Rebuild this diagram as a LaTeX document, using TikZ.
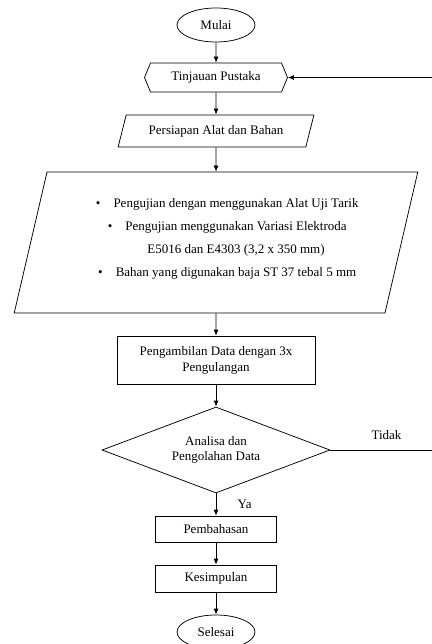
\documentclass[tikz,border=0pt]{standalone}
\usepackage{fontspec}
\setmainfont{Liberation Serif}
\usetikzlibrary{shapes, arrows.meta, positioning}
\tikzstyle{terminal} = [draw, ellipse, minimum width=78pt, minimum height=34pt, inner sep=0pt]
\tikzstyle{prep} = [draw, signal, signal to=west and east, signal pointer angle=135, minimum width=143pt, minimum height=29pt]
\tikzstyle{io} = [draw, trapezium, trapezium stretches=true, trapezium left angle=71, trapezium right angle=109, align=center]
\tikzstyle{process} = [draw, rectangle, align=center]
\tikzstyle{decision} = [draw, diamond, aspect=2.65, inner sep=0pt, align=center, minimum width=228pt, minimum height=86pt]
\tikzstyle{support} = [coordinate]
\newcommand{\geser}{\hspace*{40pt}}
\newcommand{\butir}{\geser\llap{\textbullet\hspace{13pt}}}

\begin{document}
\begin{tikzpicture}[x=1pt, y=-1pt, node distance=50pt, >={Latex[length=6pt,width=5pt]}, line width=0.75pt, font=\fontsize{13}{15}\selectfont]
\useasboundingbox (0,0) rectangle (431,644);
\node [terminal] (mulai) at (216,25) {Mulai};
\node [prep, below of=mulai, node distance=52.5pt] (tinjauan) {Tinjauan Pustaka};
\node [io, below of=tinjauan, node distance=53.5pt, minimum width=196pt, minimum height=32pt] (persiapan) {Persiapan Alat dan Bahan};
\node [io, below of=persiapan, node distance=111.5pt, minimum width=404pt, minimum height=141pt, trapezium left angle=73.5, trapezium right angle=106.5, font=\fontsize{13}{23.3}\selectfont] (uji) {\butir Pengujian dengan menggunakan Alat Uji Tarik\\
\butir Pengujian menggunakan Variasi Elektroda\\
\geser E5016 dan E4303 (3,2 x 350 mm)\\
\butir Bahan yang digunakan baja ST 37 tebal 5 mm\rule[-10pt]{0pt}{0pt}};
\node [process, below of=uji, node distance=117.5pt, minimum width=198pt, minimum height=48pt, font=\fontsize{13}{16}\selectfont] (ambil) {Pengambilan Data dengan 3x\\Pengulangan};
\node [decision, below of=ambil, node distance=90pt] (analisa) {Analisa dan\\Pengolahan Data};
\node [process, below of=analisa, node distance=79pt, minimum width=121pt, minimum height=26pt] (bahas) {Pembahasan};
\node [process, below of=bahas, node distance=49.5pt, minimum width=121pt, minimum height=27pt] (simpul) {Kesimpulan};
\node [terminal, below of=simpul, node distance=53.5pt] (selesai) {Selesai};
\node [support] (kanan) at (432.5,0) {};

\draw [->] (mulai) -- (tinjauan);
\draw [->] (tinjauan) -- (persiapan);
\draw [->] (persiapan) -- (uji);
\draw [->] (uji) -- (ambil);
\draw [->] (ambil) -- (analisa);
\draw [->] (analisa) -- node[name=ya, right=18pt] {Ya} (bahas);
\draw [->] (bahas) -- (simpul);
\draw [->] (simpul) -- (selesai);
\draw [->] (analisa.east) -- node[name=tidak, above=7pt, pos=0.55] {Tidak} (analisa.east -| kanan) |- (tinjauan.east);
\end{tikzpicture}
\end{document}
